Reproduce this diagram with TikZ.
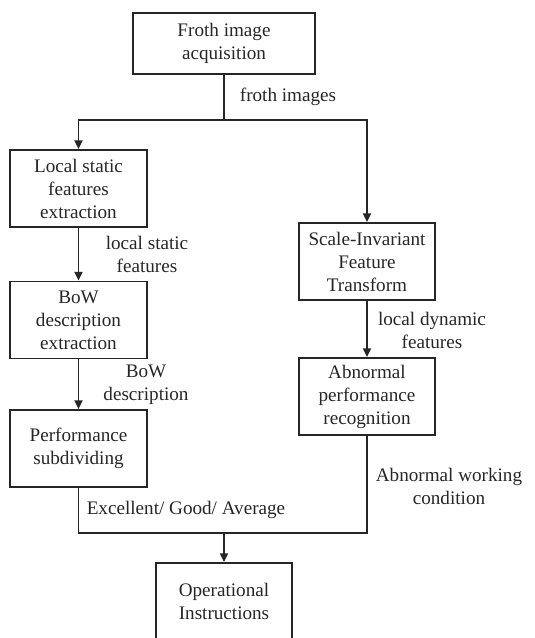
\documentclass[tikz,border=0pt]{standalone}
\usepackage{fontspec}
\setmainfont{Liberation Serif}
\usetikzlibrary{arrows.meta}
\definecolor{ink}{HTML}{262626}
\begin{document}
\begin{tikzpicture}[x=0.627pt,y=-0.627pt,
  every node/.style={font=\fontsize{12}{14.4}\selectfont, text=ink, align=center, inner sep=0pt},
  boxnode/.style={draw=ink, line width=1.2pt, minimum width=85.6pt, minimum height=48.3pt},
  conn/.style={draw=ink, line width=1.2pt},
  arr/.style={conn, -{Triangle[length=5.5pt,width=5pt]}},
  lbl/.style={}]
\path[use as bounding box] (0,0) rectangle (535,638);
\clip (0,0) rectangle (535,638);
\node[boxnode, minimum width=114.1pt, minimum height=38.2pt] (froth) at (224,43.5) {Froth image\\acquisition};
\node[boxnode] (local) at (78.5,188.5) {Local static\\features\\extraction};
\node[boxnode] (bow) at (78.5,320) {BoW\\description\\extraction};
\node[boxnode] (perf) at (78.5,448.5) {Performance\\subdividing};
\node[boxnode] (sift) at (367,261.5) {Scale-Invariant\\Feature\\Transform};
\node[boxnode] (abn) at (367,396.5) {Abnormal\\performance\\recognition};
\node[boxnode] (ops) at (224,601.5) {Operational\\Instructions};
\coordinate (split) at (224,120);
\coordinate (join) at (224,533);
\draw[conn] (froth.south) -- (split);
\draw[arr] (split) -| (local.north);
\draw[arr] (split) -| (sift.north);
\draw[arr] (local) -- (bow);
\draw[arr] (bow) -- (perf);
\draw[arr] (sift) -- (abn);
\draw[conn] (perf.south) |- (join);
\draw[conn] (abn.south) |- (join);
\draw[arr] (join) -- (ops.north);
\node[lbl] (l1) at (288,97) {froth images};
\node[lbl] (l2) at (147,254) {local static\\features};
\node[lbl] (l3) at (146,385) {BoW\\description};
\node[lbl] (l4) at (432,330) {local dynamic\\features};
\node[lbl] (l5) at (186,510) {Excellent/ Good/ Average};
\node[lbl] (l6) at (449,486) {Abnormal working\\condition};
\end{tikzpicture}
\end{document}
